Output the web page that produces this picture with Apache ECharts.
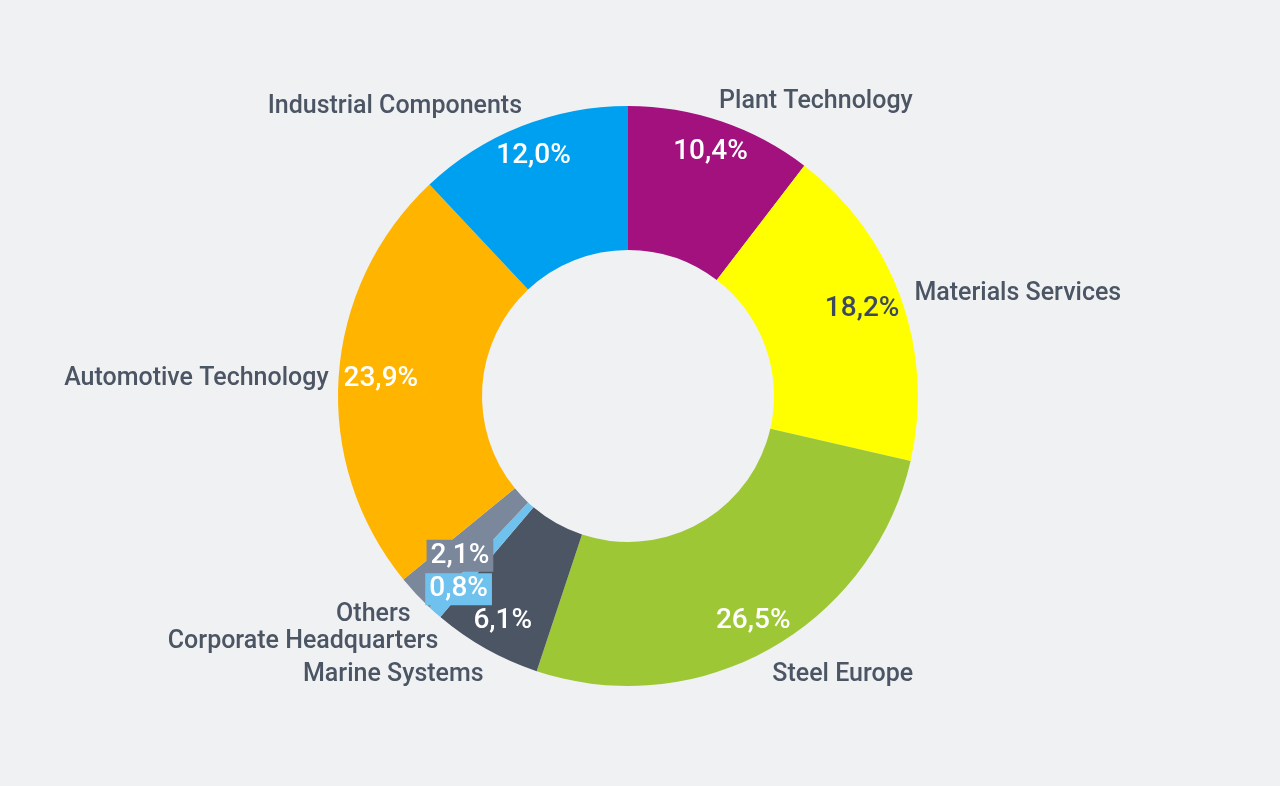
<!DOCTYPE html>
<html>
<head>
<meta charset="utf-8">
<script src="https://cdn.jsdelivr.net/npm/echarts@6/dist/echarts.min.js"></script>
<style>
  html, body { margin: 0; padding: 0; background: #f0f1f3; }
  #chart { width: 1280px; height: 786px; }
</style>
</head>
<body>
<div id="chart"></div>
<script>
// segments clockwise from 12 o'clock
const names = ['Plant Technology', 'Materials Services', 'Steel Europe', 'Marine Systems',
  'Corporate Headquarters', 'Others', 'Automotive Technology', 'Industrial Components']
const shares = [10.4, 18.2, 26.5, 6.1, 0.8, 2.1, 23.9, 12.0]
const colors = ['#a3117f', '#ffff00', '#9dc734', '#4b5564', '#70c2ee', '#7b889c', '#ffb400', '#00a0f0']

const chart = echarts.init(document.getElementById('chart'))
const font = 'Roboto'
const textDark = '#4b5563'
const center = [628, 396]

const fmt = v => v.toFixed(1).replace('.', ',') + '%'

// ring for colours + outer name labels
const mainData = names.map((n, i) => ({
  name: n, value: shares[i], itemStyle: { color: colors[i] }
}))

// percentage labels: a transparent ring per label radius, its middle is where the text goes
function pctRing(r0, shown) {
  return {
    type: 'pie',
    center: center,
    radius: [r0, 290],
    startAngle: 90,
    silent: true,
    avoidLabelOverlap: false,
    itemStyle: { color: 'transparent' },
    data: names.map((n, i) => ({
      name: n, value: shares[i],
      label: {
        show: shown(i),
        color: i === 1 ? '#3d4a5b' : '#ffffff',
        backgroundColor: (i === 4 || i === 5) ? colors[i] : 'transparent',
        padding: (i === 4 || i === 5) ? [2, 4] : 0
      }
    })),
    label: {
      position: 'inside',
      formatter: p => fmt(p.value),
      fontFamily: font,
      fontWeight: 500,
      fontSize: 28
    },
    labelLine: { show: false },
    // side labels sit a bit further in than top/bottom ones
    labelLayout: p => {
      const ux = (p.labelRect.x + p.labelRect.width / 2 - center[0]) / 255
      return { dx: -10 * ux * ux * ux }
    }
  }
}

const option = {
  backgroundColor: '#f0f1f3',
  animation: false,
  series: [
    {
      type: 'pie',
      center: center,
      radius: [146, 290],
      startAngle: 90,
      clockwise: true,
      silent: true,
      data: mainData,
      label: {
        show: true,
        position: 'outside',
        formatter: '{b}',
        fontFamily: font,
        fontWeight: 500,
        fontSize: 25,
        color: textDark
      },
      labelLine: { show: false, length: 25, length2: 0 },
      // pull the names a little back towards the ring horizontally
      labelLayout: p => ({ dx: p.labelRect.x > center[0] ? -15 : 15, dy: 4 })
    },
    pctRing(220, i => i !== 4 && i !== 5),
    pctRing(222, i => i === 4),
    pctRing(172, i => i === 5)
  ]
}
chart.setOption(option)
</script>
</body>
</html>
